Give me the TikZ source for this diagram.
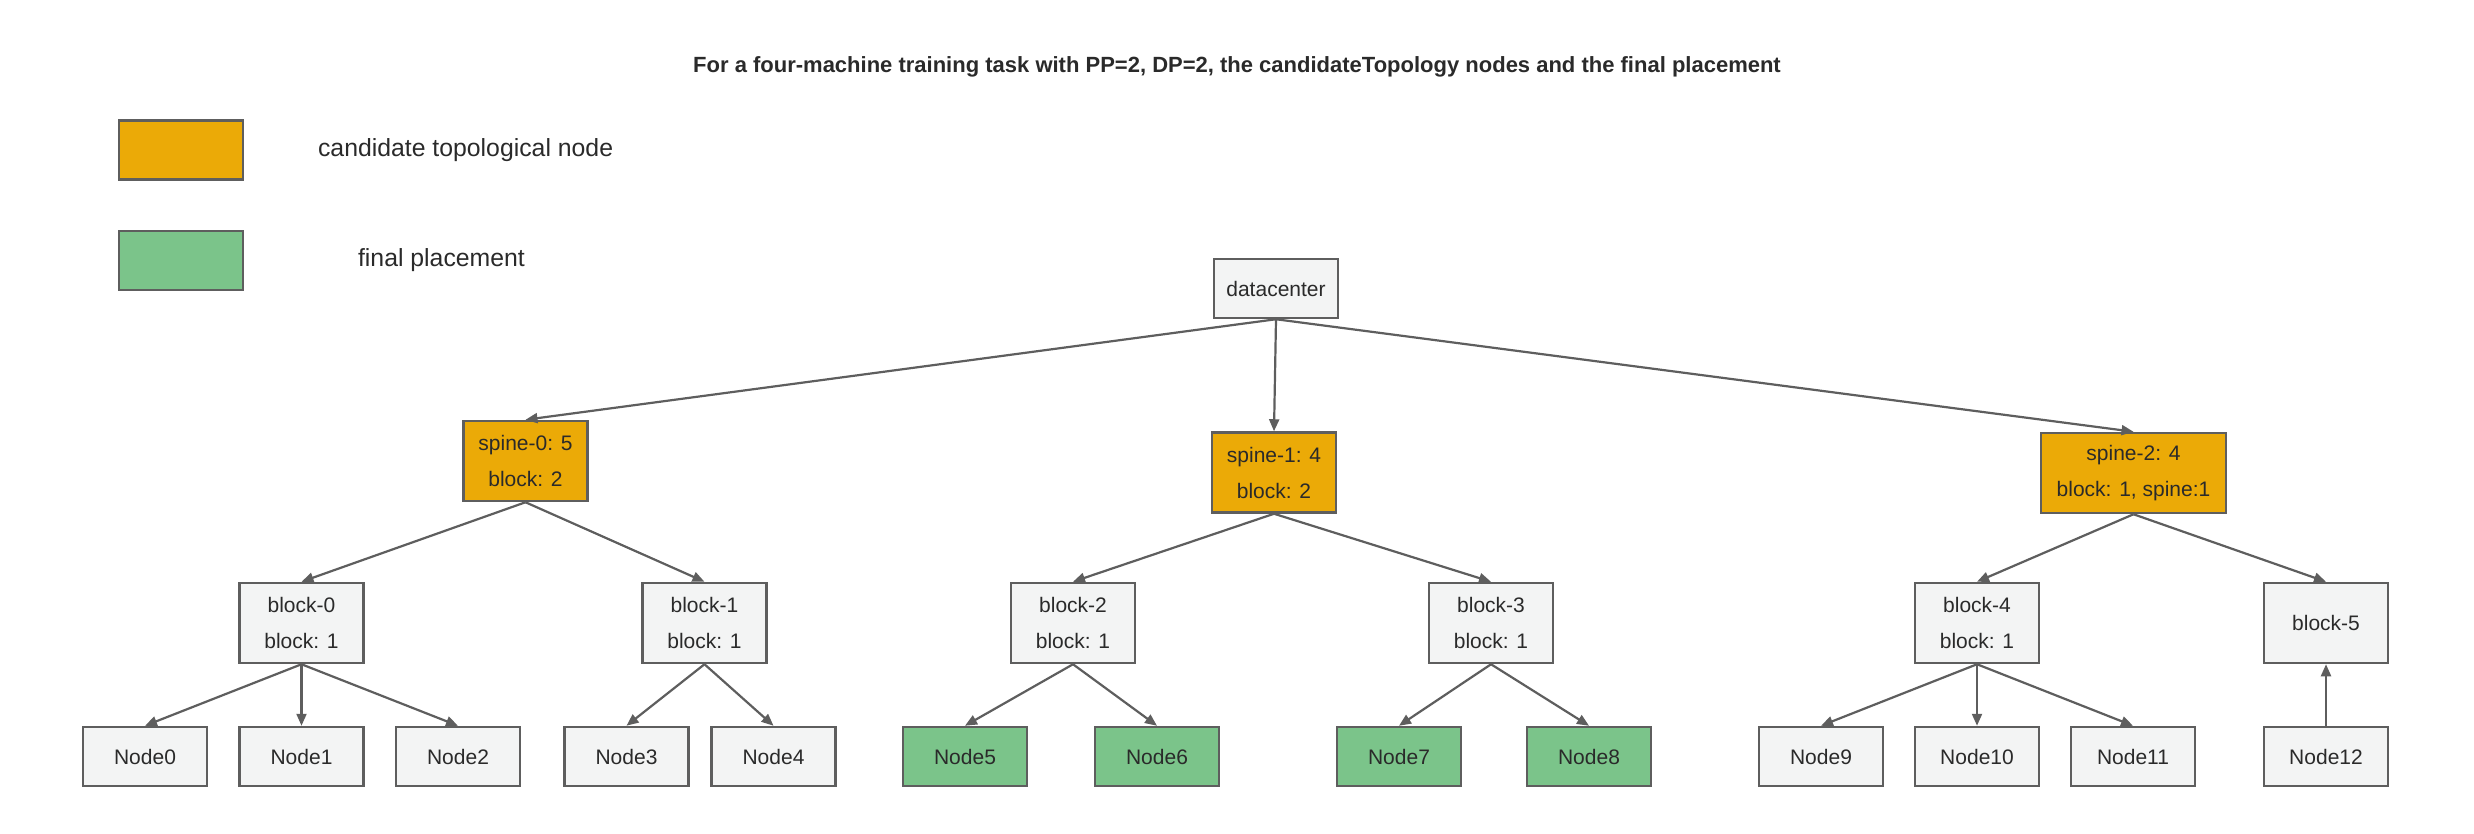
\documentclass[tikz,border=0pt]{standalone}
\usepackage{fontspec}
\setmainfont{Liberation Sans}
\usetikzlibrary{arrows.meta,positioning}
\definecolor{candorange}{HTML}{EBAA07}
\definecolor{placegreen}{HTML}{7BC48A}
\definecolor{boxgray}{HTML}{F3F4F4}
\definecolor{linegray}{HTML}{5E5E5E}
\definecolor{textdark}{HTML}{2A2A2A}

\begin{document}
\begin{tikzpicture}[x=0.5pt, y=-0.5pt,
        box/.style={draw=linegray, line width=1.25pt, fill=boxgray, text=textdark,
            minimum width=62pt, minimum height=29.5pt, inner sep=0pt, align=center,
            font=\fontsize{10.5}{18}\selectfont},
        tall/.style={box, minimum height=40pt},
        plain/.style={},
        cand/.style={fill=candorange},
        final/.style={fill=placegreen},
        legtext/.style={anchor=west, text=textdark, font=\fontsize{12.4}{15}\selectfont},
        arr/.style={draw=linegray, line width=1.1pt, -{Triangle[length=6pt,width=5pt]}}]
    \useasboundingbox (0,0) rectangle (2474,834);
    \node[text=textdark, font=\bfseries\fontsize{11}{13}\selectfont] (title) at (1237,67)
        {For a four-machine training task with PP=2, DP=2, the candidateTopology nodes and the final placement};
    % legend
    \node[box, cand] (legcand) at (181,150) {};
    \node[box, final] (legfinal) at (181,260.5) {};
    \node[legtext] (legcandtxt) at (311,150) {candidate topological node};
    \node[legtext] (legfinaltxt) at (351,260.5) {final placement};
    % tree
    \node[box] (dc) at (1276,288.5) {datacenter};
    \node[tall, cand] (sp0) at (525.5,461) {spine-0: 5\\block: 2};
    \node[tall, cand] (sp1) at (1274,472.5) {spine-1: 4\\block: 2};
    \node[tall, cand, minimum width=92.5pt] (sp2) at (2133.5,473) {spine-2: 4\\block: 1, spine:1};
    \foreach \i/\x in {0/301.5, 1/704.5, 2/1073, 3/1491, 4/1977}
        \node[tall] (b\i) at (\x,623) {block-\i\\block: 1};
    \node[tall] (b5) at (2326,623) {block-5};
    \foreach \i/\x/\s in {0/145/plain, 1/301.5/plain, 2/458/plain, 3/626.5/plain, 4/773.5/plain,
            5/965/final, 6/1157/final, 7/1399/final, 8/1589/final,
            9/1821/plain, 10/1977/plain, 11/2133/plain, 12/2326/plain}
        \node[box, \s] (n\i) at (\x,756.5) {Node\i};
    % edges
    \foreach \a/\b in {dc/sp0, dc/sp1, dc/sp2, sp0/b0, sp0/b1, sp1/b2, sp1/b3, sp2/b4, sp2/b5,
            b0/n0, b0/n1, b0/n2, b1/n3, b1/n4, b2/n5, b2/n6, b3/n7, b3/n8, b4/n9, b4/n10, b4/n11}
        \draw[arr] (\a.south) -- (\b.north);
    \draw[arr] (n12.north) -- (b5.south);
\end{tikzpicture}
\end{document}
